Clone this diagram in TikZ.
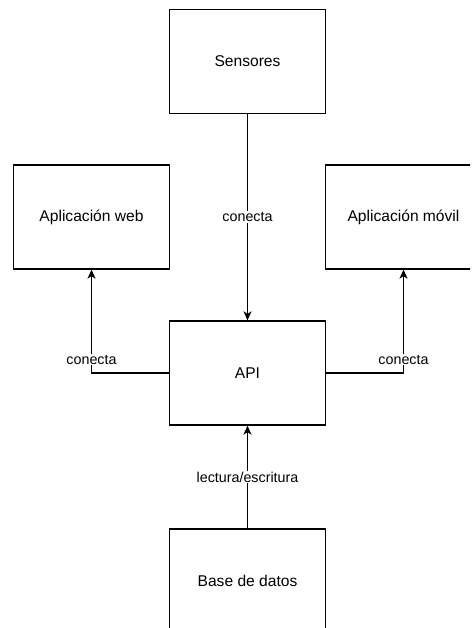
\documentclass[tikz,border=0pt]{standalone}
\usepackage{fontspec}
\setmainfont{Liberation Sans}
\usetikzlibrary{arrows.meta}
\begin{document}
\begin{tikzpicture}[x=1pt,y=-1pt,
  box/.style={draw=black,line width=1.3pt,fill=white,minimum width=156pt,minimum height=104pt,
    inner sep=0pt,font=\fontsize{15.6}{18}\selectfont},
  link/.style={draw=black,line width=1.3pt,-{Stealth[length=9pt,width=8pt,inset=2.5pt]}},
  lbl/.style={fill=white,inner sep=1pt,font=\fontsize{14.3}{16}\selectfont}]
  \useasboundingbox (0,0) rectangle (471,628);
  \clip (0,0) rectangle (470,628);
  % components
  \node[box] (sens) at (247.5,61.3) {Sensores};
  \node[box] (web)  at (91.5,217)   {Aplicación web};
  \node[box] (mov)  at (403.5,217)  {Aplicación móvil};
  \node[box] (api)  at (247.5,373)  {API};
  \node[box] (db)   at (247.5,581)  {Base de datos};
  % connections
  \draw[link] (sens) -- node[lbl] {conecta} (api);
  \draw[link] (api.west) -| node[lbl,pos=0.564] {conecta} (web.south);
  \draw[link] (api.east) -| node[lbl,pos=0.564] {conecta} (mov.south);
  \draw[link] (db) -- node[lbl] {lectura/escritura} (api);
\end{tikzpicture}
\end{document}
